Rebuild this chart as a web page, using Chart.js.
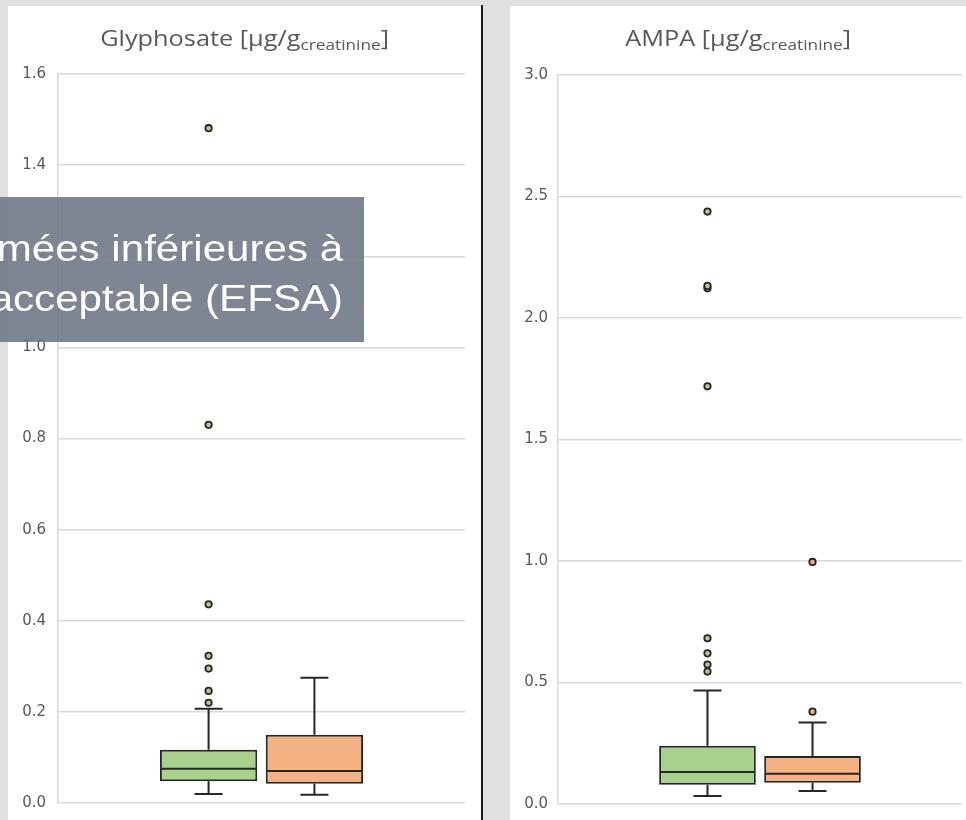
<!DOCTYPE html>
<html>
<head>
<meta charset="utf-8">
<script src="https://cdn.jsdelivr.net/npm/chart.js@4"></script>
<style>
  body { margin: 0; background: #e0e0e0; width: 966px; height: 820px; overflow: hidden; position: relative; }
  .panel { position: absolute; background: #fff; overflow: hidden; }
  .panel canvas { position: absolute; left: 0; top: 0; }
  .title { position: absolute; left: 0; right: 0; top: 16px; text-align: center; color: #595959;
           font-family: "Open Sans", sans-serif; font-size: 22px; white-space: nowrap; }
  .title span { display: inline-block; transform: scaleX(1.15); }
  .title sub { font-size: 15px; vertical-align: -4px; }
  #divider { position: absolute; left: 481px; top: 5px; width: 2px; height: 815px; background: #1a1a1a; }
  #overlay { position: absolute; left: 0; top: 197px; width: 364px; height: 145px; background: rgba(108, 117, 133, 0.88); overflow: hidden; }
  #overlay div { position: absolute; right: 21px; top: 27px; color: #fff; font-family: "Liberation Sans", Arial, sans-serif;
                 font-size: 36px; line-height: 50px; text-align: right; white-space: nowrap;
                 transform: scaleX(1.17); transform-origin: right top; }
</style>
</head>
<body>
<div class="panel" style="left:8px;top:6px;width:474px;height:814px">
  <canvas id="gly" width="474" height="818"></canvas>
  <div class="title"><span>Glyphosate [µg/g<sub>creatinine</sub>]</span></div>
</div>
<div id="divider"></div>
<div class="panel" style="left:510px;top:6px;width:456px;height:814px">
  <canvas id="ampa" width="456" height="818"></canvas>
  <div class="title"><span>AMPA [µg/g<sub>creatinine</sub>]</span></div>
</div>
<div id="overlay"><div>mées inférieures à<br>acceptable (EFSA)</div></div>

<script>
// two series per panel: green, orange
const seriesColors = ['#a9d18e', '#f4b183'];

const glyMin = [0.020, 0.018];
const glyQ1 = [0.048, 0.042];
const glyMedian = [0.075, 0.070];
const glyQ3 = [0.117, 0.150];
const glyMax = [0.207, 0.275];
const glyOutliers = [[0.220, 0.246, 0.295, 0.323, 0.436, 0.830, 1.481], [1.131]];
const glyTicks = [0, 1.6, 0.2];

const ampaMin = [0.033, 0.054];
const ampaQ1 = [0.079, 0.087];
const ampaMedian = [0.132, 0.124];
const ampaQ3 = [0.240, 0.198];
const ampaMax = [0.467, 0.335];
const ampaOutliers = [[0.545, 0.574, 0.620, 0.682, 1.719, 2.122, 2.132, 2.438], [0.380, 0.996]];
const ampaTicks = [0, 3.0, 0.5];

// draws median, whiskers and outliers on top of the floating bars (the boxes)
const boxPlugin = {
  id: 'boxExtras',
  afterDatasetsDraw(chart) {
    const ctx = chart.ctx;
    const y = chart.scales.y;
    const st = chart.options.plugins.boxExtras;
    chart.data.datasets.forEach((ds, i) => {
      const bar = chart.getDatasetMeta(i).data[0];
      const x = bar.x, half = bar.width / 2;
      ctx.save();
      ctx.strokeStyle = '#262626';
      // whiskers
      ctx.lineWidth = 2;
      ctx.beginPath();
      ctx.moveTo(x, y.getPixelForValue(st.q3[i]));
      ctx.lineTo(x, y.getPixelForValue(st.max[i]));
      ctx.moveTo(x, y.getPixelForValue(st.q1[i]));
      ctx.lineTo(x, y.getPixelForValue(st.min[i]));
      ctx.moveTo(x - 14, y.getPixelForValue(st.max[i]));
      ctx.lineTo(x + 14, y.getPixelForValue(st.max[i]));
      ctx.moveTo(x - 14, y.getPixelForValue(st.min[i]));
      ctx.lineTo(x + 14, y.getPixelForValue(st.min[i]));
      ctx.stroke();
      // median
      ctx.lineWidth = 2;
      ctx.beginPath();
      ctx.moveTo(x - half + 1, y.getPixelForValue(st.median[i]));
      ctx.lineTo(x + half - 1, y.getPixelForValue(st.median[i]));
      ctx.stroke();
      // outliers
      ctx.fillStyle = seriesColors[i];
      ctx.lineWidth = 1.8;
      st.outliers[i].forEach(v => {
        ctx.beginPath();
        ctx.arc(x, y.getPixelForValue(v), 3.2, 0, Math.PI * 2);
        ctx.fill();
        ctx.stroke();
      });
      ctx.restore();
    });
  }
};

function makeBoxChart(canvasId, stats, ticks, pad, axisWidth, tickPad) {
  return new Chart(document.getElementById(canvasId), {
    type: 'bar',
    data: {
      labels: [''],
      datasets: seriesColors.map((c, i) => ({
        data: [[stats.q1[i], stats.q3[i]]],
        backgroundColor: c,
        borderColor: '#262626',
        borderWidth: 2,
        borderSkipped: false,
        categoryPercentage: 0.52,
        barPercentage: 0.92
      }))
    },
    options: {
      responsive: false,
      animation: false,
      layout: { padding: pad },
      plugins: {
        legend: { display: false },
        tooltip: { enabled: false },
        boxExtras: stats
      },
      scales: {
        x: { display: false },
        y: {
          min: ticks[0],
          max: ticks[1],
          afterFit: s => { s.width = axisWidth; },
          ticks: {
            stepSize: ticks[2],
            padding: tickPad,
            color: '#595959',
            font: { family: 'DejaVu Sans', size: 15 },
            callback: v => v.toFixed(1)
          },
          grid: { color: '#d9d9d9', lineWidth: 1.5, drawTicks: false },
          border: { display: true, color: '#d9d9d9', width: 1.5 }
        }
      }
    },
    plugins: [boxPlugin]
  });
}

makeBoxChart('gly',
  { min: glyMin, q1: glyQ1, median: glyMedian, q3: glyQ3, max: glyMax, outliers: glyOutliers },
  glyTicks, { top: 68, bottom: 18, left: 0, right: 17 }, 50, 12);

makeBoxChart('ampa',
  { min: ampaMin, q1: ampaQ1, median: ampaMedian, q3: ampaQ3, max: ampaMax, outliers: ampaOutliers },
  ampaTicks, { top: 69, bottom: 20, left: 0, right: 4 }, 48, 10);
</script>
</body>
</html>
